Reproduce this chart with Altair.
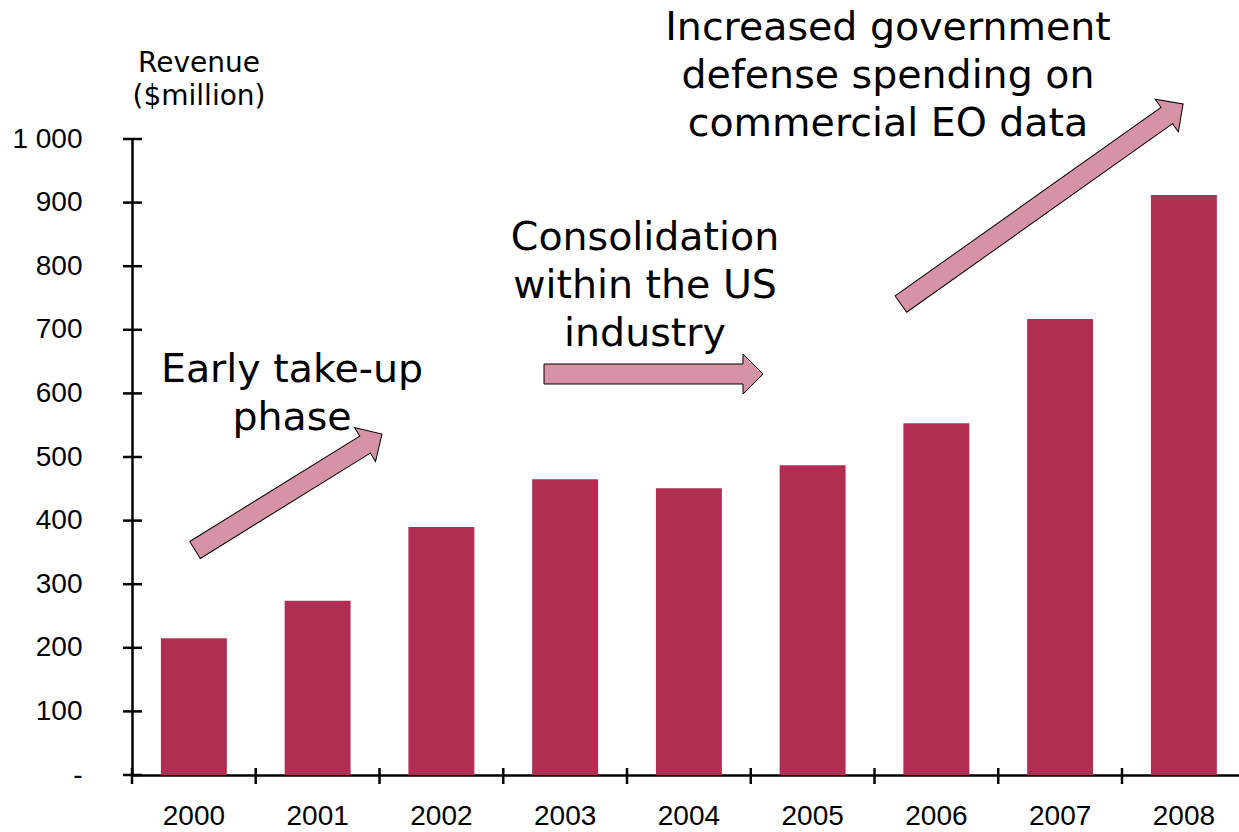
import altair as alt
import pandas as pd

# Earth-observation revenue by year ($ million)
years = ["2000", "2001", "2002", "2003", "2004", "2005", "2006", "2007", "2008"]
revenue = [215, 274, 390, 465, 451, 487, 553, 717, 912]

# y axis ticks and their printed labels
y_ticks = [0, 100, 200, 300, 400, 500, 600, 700, 800, 900, 1000]
y_tick_labels = ["-", "100", "200", "300", "400", "500", "600", "700", "800", "900", "1 000"]

# phase annotations
phase_early = ["Early take-up", "phase"]
phase_consolidation = ["Consolidation", "within the US", "industry"]
phase_defense = ["Increased government", "defense spending on", "commercial EO data"]
y_title = ["Revenue", "($million)"]

# layout
W, H = 1107, 636
STEP = 123.75
PAD_INNER = 0.467
PAD_OUTER = PAD_INNER / 2
BAR_COLOR = "#B02E52"
ARROW_FILL = "#D693A5"
LABEL_FONT = "Liberation Sans"
LABEL_SIZE = 28
NOTE_FONT = "DejaVu Sans"

df = pd.DataFrame({"year": years, "revenue": revenue})
ticks_df = pd.DataFrame({"v": y_ticks})
one = pd.DataFrame({"k": [0]})

label_lookup = "[" + ",".join(f"'{s}'" for s in y_tick_labels) + "][round(datum.value / 100)]"

x_scale = alt.Scale(range=[0, STEP * len(years)], paddingInner=PAD_INNER, paddingOuter=PAD_OUTER)
y_scale = alt.Scale(domain=[0, 1000], nice=False, zero=True)

bars = alt.Chart(df).mark_bar(color=BAR_COLOR).encode(
    x=alt.X(
        "year:N",
        scale=x_scale,
        sort=years,
        title=None,
        axis=alt.Axis(
            ticks=False, tickSize=0, domain=True, domainColor="black", domainWidth=2.5,
            labelFont=LABEL_FONT, labelFontSize=LABEL_SIZE, labelColor="black",
            labelPadding=27, labelAngle=0,
        ),
    ),
    y=alt.Y(
        "revenue:Q",
        scale=y_scale,
        title=None,
        axis=alt.Axis(
            values=y_ticks, ticks=False, tickSize=0, grid=False,
            domain=True, domainColor="black", domainWidth=2.5,
            labelFont=LABEL_FONT, labelFontSize=LABEL_SIZE, labelColor="black",
            labelPadding=50, labelExpr=label_lookup,
        ),
    ),
)

# cross-shaped ticks on both axes
y_tick_marks = alt.Chart(ticks_df).mark_rule(color="black", strokeWidth=2.5).encode(
    y=alt.Y("v:Q", scale=y_scale, title=None),
    x=alt.value(-9),
    x2=alt.value(10),
)

x_tick_marks = alt.Chart(df).mark_rule(
    color="black", strokeWidth=2.5, xOffset=-PAD_INNER * STEP / 2
).encode(
    x=alt.X("year:N", bandPosition=0, sort=years, title=None),
    y=alt.value(H - 7),
    y2=alt.value(H + 9),
)


def arrow_shape(length, shaft=20, head_w=40, head_l=20):
    """Block arrow pointing right, centred on the origin (1 unit = 1 px at size 4)."""
    a = -length / 2
    b = length / 2 - head_l
    c = length / 2
    s = shaft / 2
    h = head_w / 2
    return (f"M{a},{-s}L{b},{-s}L{b},{-h}L{c},0L{b},{h}L{b},{s}L{a},{s}Z")


def arrow(cx, cy, length, angle):
    return alt.Chart(one).mark_point(
        shape=arrow_shape(length), size=4, filled=True, fill=ARROW_FILL,
        stroke="black", strokeWidth=1, opacity=1, angle=angle,
    ).encode(x=alt.value(cx), y=alt.value(cy))


def note(lines, x, y, size=39.5, line_height=48):
    return alt.Chart(one).mark_text(
        text=lines, font=NOTE_FONT, fontSize=size, lineHeight=line_height,
        align="center", baseline="alphabetic", color="black",
    ).encode(x=alt.value(x), y=alt.value(y))


arrows = [
    arrow(156.5, 353, 220, 328.2),
    arrow(521.5, 235, 219, 0),
    arrow(910, 65, 346, 324.65),
]

notes = [
    note(phase_early, 160, 243),
    note(phase_consolidation, 513, 111),
    note(phase_defense, 756, -99),
    note(y_title, 67, -67, size=28, line_height=33),
]

chart = alt.layer(bars, y_tick_marks, x_tick_marks, *arrows, *notes).properties(
    width=W,
    height=H,
    autosize=alt.AutoSizeParams(type="none"),
    padding={"left": 132, "top": 139, "right": 0, "bottom": 832 - 139 - H},
    background="white",
).configure_view(stroke=None)

chart.save("out.html", embed_options={"renderer": "svg", "actions": False})
